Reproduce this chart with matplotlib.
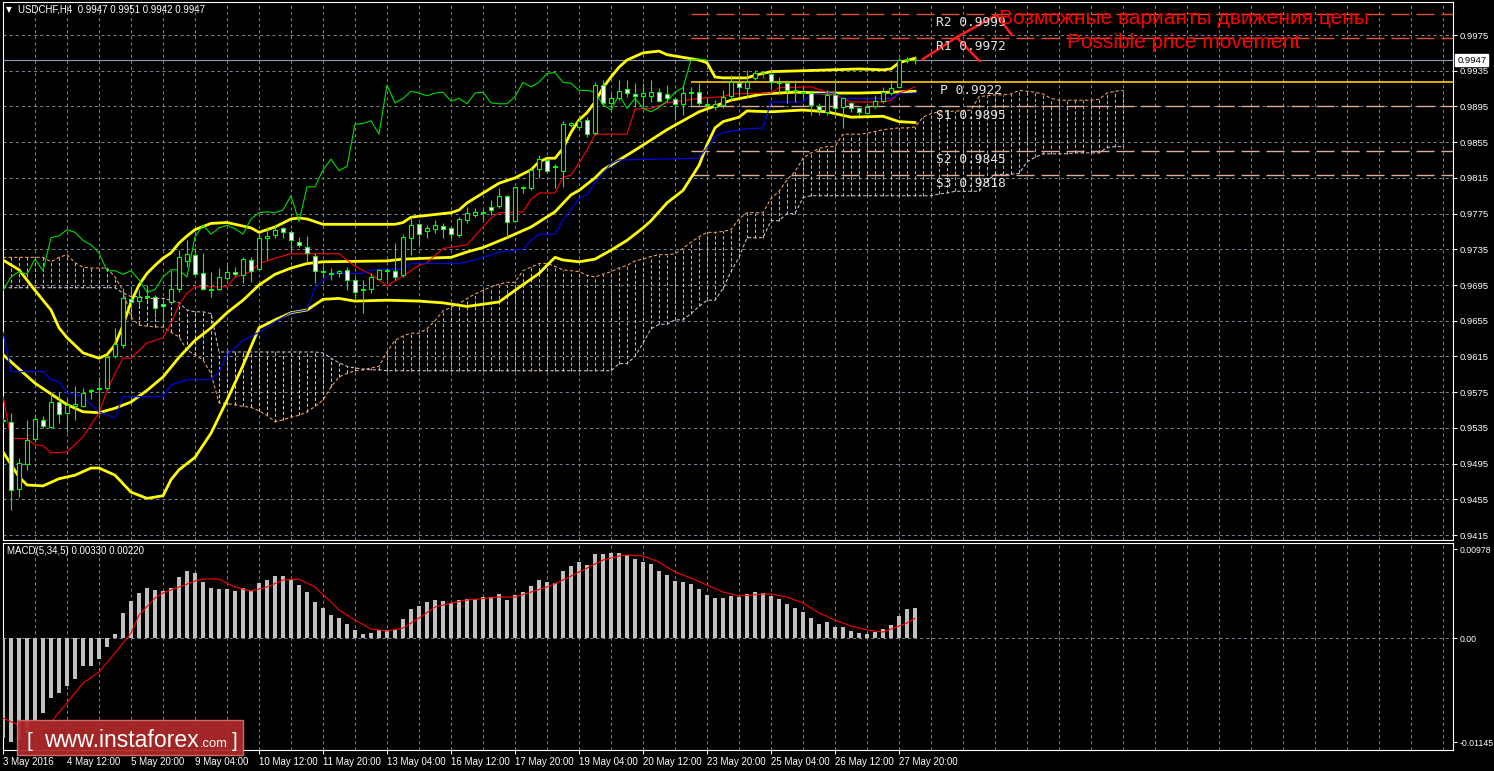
import numpy as np
import matplotlib
matplotlib.use("Agg")
import matplotlib.pyplot as plt
from matplotlib.patches import Rectangle

# ---------------- data ----------------
SYMBOL = "USDCHF,H4"

OPEN = [0.9543, 0.9542, 0.9466, 0.9494, 0.9523, 0.9544, 0.9536, 0.9564, 0.9552, 0.9560,
        0.9560, 0.9576, 0.9580, 0.9580, 0.9615, 0.9628, 0.9679, 0.9677, 0.9683, 0.9682,
        0.9674, 0.9676, 0.9690, 0.9722, 0.9729, 0.9708, 0.9690, 0.9691, 0.9703, 0.9710,
        0.9706, 0.9723, 0.9713, 0.9748, 0.9751, 0.9759, 0.9754, 0.9743, 0.9738, 0.9728,
        0.9710, 0.9708, 0.9708, 0.9712, 0.9701, 0.9689, 0.9690, 0.9702, 0.9711, 0.9711,
        0.9706, 0.9748, 0.9763, 0.9755, 0.9758, 0.9761, 0.9759, 0.9751, 0.9768, 0.9773,
        0.9777, 0.9782, 0.9784, 0.9795, 0.9767, 0.9804, 0.9804, 0.9825, 0.9835, 0.9827,
        0.9823, 0.9874, 0.9872, 0.9880, 0.9865, 0.9919, 0.9899, 0.9904, 0.9915, 0.9909,
        0.9907, 0.9907, 0.9911, 0.9909, 0.9903, 0.9898, 0.9910, 0.9911, 0.9897, 0.9894,
        0.9897, 0.9907, 0.9921, 0.9916, 0.9927, 0.9932, 0.9931, 0.9922, 0.9921, 0.9912,
        0.9910, 0.9910, 0.9896, 0.9889, 0.9908, 0.9894, 0.9899, 0.9893, 0.9888, 0.9896,
        0.9901, 0.9910, 0.9917, 0.9947, 0.9947]
HIGH = [0.9546, 0.9552, 0.9501, 0.9544, 0.9551, 0.9548, 0.9575, 0.9575, 0.9569, 0.9582,
        0.9580, 0.9578, 0.9592, 0.9616, 0.9647, 0.9692, 0.9694, 0.9689, 0.9695, 0.9684,
        0.9682, 0.9712, 0.9734, 0.9745, 0.9736, 0.9731, 0.9710, 0.9714, 0.9717, 0.9715,
        0.9726, 0.9726, 0.9753, 0.9760, 0.9762, 0.9760, 0.9757, 0.9749, 0.9750, 0.9731,
        0.9717, 0.9714, 0.9712, 0.9715, 0.9704, 0.9701, 0.9708, 0.9713, 0.9714, 0.9742,
        0.9752, 0.9771, 0.9764, 0.9762, 0.9768, 0.9764, 0.9761, 0.9771, 0.9782, 0.9781,
        0.9780, 0.9790, 0.9804, 0.9796, 0.9805, 0.9806, 0.9826, 0.9841, 0.9836, 0.9831,
        0.9879, 0.9878, 0.9885, 0.9883, 0.9922, 0.9925, 0.9910, 0.9925, 0.9925, 0.9921,
        0.9921, 0.9925, 0.9916, 0.9919, 0.9906, 0.9919, 0.9917, 0.9921, 0.9904, 0.9902,
        0.9913, 0.9930, 0.9932, 0.9936, 0.9936, 0.9935, 0.9936, 0.9928, 0.9925, 0.9925,
        0.9917, 0.9911, 0.9899, 0.9913, 0.9925, 0.9906, 0.9900, 0.9894, 0.9897, 0.9908,
        0.9917, 0.9925, 0.9949, 0.9950, 0.9951]
LOW = [0.9540, 0.9443, 0.9458, 0.9488, 0.9520, 0.9535, 0.9535, 0.9540, 0.9530, 0.9544,
       0.9558, 0.9567, 0.9551, 0.9577, 0.9613, 0.9625, 0.9673, 0.9673, 0.9677, 0.9659,
       0.9654, 0.9675, 0.9687, 0.9715, 0.9706, 0.9689, 0.9682, 0.9689, 0.9701, 0.9705,
       0.9697, 0.9698, 0.9712, 0.9723, 0.9748, 0.9748, 0.9734, 0.9738, 0.9721, 0.9697,
       0.9703, 0.9701, 0.9704, 0.9689, 0.9678, 0.9664, 0.9686, 0.9701, 0.9701, 0.9701,
       0.9704, 0.9729, 0.9740, 0.9748, 0.9753, 0.9748, 0.9748, 0.9749, 0.9764, 0.9771,
       0.9768, 0.9773, 0.9781, 0.9749, 0.9766, 0.9798, 0.9801, 0.9815, 0.9820, 0.9804,
       0.9805, 0.9872, 0.9869, 0.9861, 0.9863, 0.9897, 0.9891, 0.9902, 0.9906, 0.9894,
       0.9894, 0.9900, 0.9900, 0.9900, 0.9880, 0.9885, 0.9894, 0.9897, 0.9894, 0.9891,
       0.9893, 0.9902, 0.9906, 0.9906, 0.9925, 0.9928, 0.9913, 0.9910, 0.9899, 0.9900,
       0.9904, 0.9885, 0.9885, 0.9885, 0.9883, 0.9871, 0.9889, 0.9885, 0.9887, 0.9893,
       0.9899, 0.9908, 0.9916, 0.9944, 0.9942]
CLOSE = [0.9544, 0.9465, 0.9496, 0.9521, 0.9545, 0.9537, 0.9564, 0.9551, 0.9561, 0.9562,
         0.9574, 0.9577, 0.9578, 0.9614, 0.9629, 0.9680, 0.9676, 0.9682, 0.9682, 0.9669,
         0.9671, 0.9691, 0.9726, 0.9730, 0.9707, 0.9690, 0.9689, 0.9704, 0.9710, 0.9707,
         0.9724, 0.9711, 0.9748, 0.9750, 0.9757, 0.9754, 0.9745, 0.9740, 0.9731, 0.9711,
         0.9711, 0.9707, 0.9711, 0.9701, 0.9687, 0.9690, 0.9704, 0.9712, 0.9712, 0.9704,
         0.9749, 0.9762, 0.9752, 0.9759, 0.9762, 0.9758, 0.9752, 0.9769, 0.9776, 0.9777,
         0.9776, 0.9779, 0.9795, 0.9766, 0.9805, 0.9805, 0.9824, 0.9836, 0.9823, 0.9828,
         0.9875, 0.9876, 0.9879, 0.9864, 0.9919, 0.9899, 0.9904, 0.9912, 0.9910, 0.9907,
         0.9910, 0.9911, 0.9901, 0.9904, 0.9898, 0.9910, 0.9911, 0.9899, 0.9898, 0.9898,
         0.9906, 0.9922, 0.9917, 0.9922, 0.9932, 0.9933, 0.9922, 0.9921, 0.9913, 0.9913,
         0.9911, 0.9897, 0.9891, 0.9908, 0.9893, 0.9904, 0.9893, 0.9889, 0.9894, 0.9901,
         0.9911, 0.9916, 0.9947, 0.9948, 0.9947]

X_LABELS = ["3 May 2016", "4 May 12:00", "5 May 20:00", "9 May 04:00", "10 May 12:00",
            "11 May 20:00", "13 May 04:00", "16 May 12:00", "17 May 20:00", "19 May 04:00",
            "20 May 12:00", "23 May 20:00", "25 May 04:00", "26 May 12:00", "27 May 20:00"]
PRICE_TICKS = [0.9975, 0.9935, 0.9895, 0.9855, 0.9815, 0.9775, 0.9735, 0.9695,
               0.9655, 0.9615, 0.9575, 0.9535, 0.9495, 0.9455, 0.9415]

# Bollinger bands (key points: bar index, price)
BB_UPPER_X = [0, 2, 4, 6, 7, 8, 10, 12, 13, 14, 15, 16, 17, 18, 19, 20, 21, 22, 23, 24,
              26, 28, 31, 32, 34, 36, 37, 38, 40, 49, 50, 51, 53, 56, 57, 58, 60, 62, 64, 66,
              67, 68, 69, 70, 71, 72, 73, 74, 75, 76, 77, 78, 79, 80, 82, 83, 85, 87, 88, 89,
              90, 93, 94, 96, 100, 107, 110, 111, 112, 114]
BB_UPPER = [0.9723, 0.9712, 0.9689, 0.9667, 0.9647, 0.9636, 0.9619, 0.9613, 0.9617, 0.9628,
            0.9650, 0.9676, 0.9695, 0.9708, 0.9717, 0.9725, 0.9731, 0.9742, 0.9750, 0.9757,
            0.9764, 0.9765, 0.9759, 0.9754, 0.9760, 0.9769, 0.9770, 0.9769, 0.9763, 0.9763,
            0.9765, 0.9771, 0.9773, 0.9776, 0.9779, 0.9787, 0.9798, 0.9809, 0.9815, 0.9824,
            0.9833, 0.9837, 0.9837, 0.9848, 0.9866, 0.9880, 0.9888, 0.9900, 0.9916, 0.9928,
            0.9939, 0.9947, 0.9951, 0.9955, 0.9957, 0.9953, 0.9950, 0.9947, 0.9944, 0.9928,
            0.9927, 0.9927, 0.9930, 0.9934, 0.9935, 0.9937, 0.9936, 0.9937, 0.9944, 0.9949]
BB_MID_X = [0, 4, 8, 10, 12, 14, 16, 18, 20, 22, 24, 26, 28, 30, 32, 34, 36, 38, 40, 48,
            50, 56, 58, 60, 63, 66, 69, 71, 72, 74, 75, 79, 83, 87, 91, 95, 99, 103, 107, 111, 114]
BB_MID = [0.9617, 0.9585, 0.9561, 0.9553, 0.9552, 0.9557, 0.9564, 0.9577, 0.9592, 0.9614,
          0.9633, 0.9647, 0.9664, 0.9678, 0.9695, 0.9707, 0.9714, 0.9719, 0.9721, 0.9722,
          0.9724, 0.9726, 0.9732, 0.9737, 0.9748, 0.9760, 0.9777, 0.9796, 0.9801, 0.9815,
          0.9824, 0.9846, 0.9869, 0.9889, 0.9902, 0.9909, 0.9911, 0.9910, 0.9910, 0.9911, 0.9912]
BB_LOW_X = [0, 2, 3, 5, 7, 9, 11, 12, 14, 16, 18, 20, 21, 22, 24, 26, 28, 30, 32, 34,
            36, 38, 40, 42, 44, 48, 52, 55, 58, 62, 64, 67, 69, 70, 72, 74, 76, 78, 80, 81,
            82, 83, 85, 86, 87, 88, 89, 90, 92, 93, 96, 100, 103, 106, 110, 112, 114]
BB_LOW = [0.9508, 0.9480, 0.9471, 0.9470, 0.9478, 0.9482, 0.9490, 0.9490, 0.9482, 0.9463,
          0.9456, 0.9459, 0.9477, 0.9488, 0.9502, 0.9529, 0.9566, 0.9605, 0.9647, 0.9656,
          0.9664, 0.9667, 0.9679, 0.9680, 0.9677, 0.9678, 0.9677, 0.9675, 0.9671, 0.9676,
          0.9689, 0.9708, 0.9726, 0.9723, 0.9721, 0.9724, 0.9734, 0.9745, 0.9759, 0.9767,
          0.9777, 0.9787, 0.9801, 0.9815, 0.9829, 0.9852, 0.9871, 0.9878, 0.9883, 0.9890,
          0.9889, 0.9891, 0.9889, 0.9883, 0.9884, 0.9878, 0.9877]

# Ichimoku
TENKAN_X = [0, 1, 3, 4, 5, 6, 8, 10, 12, 13, 14, 15, 16, 18, 20, 21, 22, 23, 24, 28,
            29, 31, 32, 34, 36, 42, 44, 46, 48, 50, 52, 53, 55, 58, 60, 61, 62, 65, 66, 67,
            69, 70, 71, 72, 73, 74, 78, 79, 81, 83, 87, 90, 91, 96, 97, 101, 103, 105, 106, 110,
            111, 112, 113, 114]
TENKAN = [0.9570, 0.9523, 0.9523, 0.9516, 0.9515, 0.9507, 0.9508, 0.9525, 0.9552, 0.9577,
          0.9596, 0.9613, 0.9613, 0.9630, 0.9636, 0.9652, 0.9673, 0.9686, 0.9693, 0.9693,
          0.9704, 0.9710, 0.9719, 0.9725, 0.9730, 0.9730, 0.9716, 0.9707, 0.9694, 0.9705,
          0.9717, 0.9720, 0.9736, 0.9740, 0.9760, 0.9770, 0.9776, 0.9777, 0.9791, 0.9798,
          0.9798, 0.9816, 0.9818, 0.9832, 0.9846, 0.9864, 0.9864, 0.9892, 0.9893, 0.9899,
          0.9904, 0.9906, 0.9909, 0.9910, 0.9916, 0.9917, 0.9911, 0.9904, 0.9900, 0.9900,
          0.9902, 0.9910, 0.9913, 0.9917]
KIJUN_X = [0, 1, 5, 6, 7, 8, 10, 11, 12, 14, 15, 20, 21, 23, 26, 27, 28, 30, 32, 34,
           36, 38, 39, 41, 45, 46, 50, 51, 57, 59, 62, 65, 66, 67, 69, 70, 72, 73, 74, 75,
           76, 77, 87, 89, 90, 93, 95, 96, 100, 101, 104, 105, 111, 112, 114]
KIJUN = [0.9642, 0.9598, 0.9598, 0.9589, 0.9587, 0.9574, 0.9570, 0.9561, 0.9553, 0.9546,
         0.9570, 0.9570, 0.9583, 0.9589, 0.9589, 0.9598, 0.9617, 0.9633, 0.9642, 0.9654,
         0.9664, 0.9667, 0.9692, 0.9708, 0.9708, 0.9712, 0.9713, 0.9719, 0.9719, 0.9723,
         0.9732, 0.9735, 0.9745, 0.9752, 0.9752, 0.9768, 0.9792, 0.9796, 0.9810, 0.9820,
         0.9831, 0.9835, 0.9837, 0.9861, 0.9866, 0.9870, 0.9871, 0.9900, 0.9900, 0.9909,
         0.9910, 0.9904, 0.9904, 0.9909, 0.9910]
CHIKOU_SHIFT = 26
SENKOU_A = [0.9726, 0.9726, 0.9726, 0.9726, 0.9726, 0.9726, 0.9721, 0.9726, 0.9729, 0.9720,
            0.9715, 0.9714, 0.9714, 0.9714, 0.9704, 0.9689, 0.9659, 0.9650, 0.9649, 0.9648,
            0.9648, 0.9642, 0.9637, 0.9622, 0.9617, 0.9611, 0.9596, 0.9563, 0.9562, 0.9561,
            0.9559, 0.9558, 0.9554, 0.9549, 0.9542, 0.9544, 0.9547, 0.9549, 0.9553, 0.9559,
            0.9566, 0.9581, 0.9592, 0.9596, 0.9599, 0.9600, 0.9602, 0.9604, 0.9620, 0.9633,
            0.9638, 0.9641, 0.9641, 0.9646, 0.9655, 0.9666, 0.9670, 0.9674, 0.9680, 0.9685,
            0.9689, 0.9693, 0.9696, 0.9698, 0.9698, 0.9711, 0.9715, 0.9719, 0.9719, 0.9716,
            0.9712, 0.9711, 0.9710, 0.9706, 0.9704, 0.9707, 0.9710, 0.9714, 0.9717, 0.9722,
            0.9724, 0.9727, 0.9729, 0.9729, 0.9730, 0.9736, 0.9743, 0.9749, 0.9754, 0.9754,
            0.9755, 0.9757, 0.9769, 0.9776, 0.9776, 0.9776, 0.9792, 0.9800, 0.9813, 0.9822,
            0.9837, 0.9843, 0.9848, 0.9850, 0.9850, 0.9864, 0.9864, 0.9864, 0.9865, 0.9867,
            0.9869, 0.9870, 0.9871, 0.9871, 0.9872, 0.9883, 0.9887, 0.9889, 0.9889, 0.9890,
            0.9890, 0.9891, 0.9906, 0.9907, 0.9908, 0.9908, 0.9909, 0.9913, 0.9912, 0.9911,
            0.9909, 0.9904, 0.9902, 0.9902, 0.9902, 0.9902, 0.9902, 0.9903, 0.9910, 0.9912,
            0.9913]
SENKOU_B = [0.9692, 0.9692, 0.9692, 0.9692, 0.9692, 0.9692, 0.9692, 0.9692, 0.9692, 0.9692,
            0.9692, 0.9692, 0.9692, 0.9692, 0.9692, 0.9686, 0.9682, 0.9682, 0.9680, 0.9680,
            0.9680, 0.9678, 0.9675, 0.9667, 0.9665, 0.9665, 0.9663, 0.9620, 0.9620, 0.9620,
            0.9620, 0.9620, 0.9620, 0.9620, 0.9620, 0.9620, 0.9620, 0.9620, 0.9620, 0.9620,
            0.9619, 0.9613, 0.9608, 0.9604, 0.9602, 0.9601, 0.9600, 0.9600, 0.9599, 0.9599,
            0.9599, 0.9599, 0.9599, 0.9599, 0.9599, 0.9599, 0.9599, 0.9599, 0.9599, 0.9599,
            0.9599, 0.9599, 0.9599, 0.9599, 0.9599, 0.9599, 0.9599, 0.9599, 0.9599, 0.9599,
            0.9599, 0.9599, 0.9599, 0.9599, 0.9599, 0.9599, 0.9599, 0.9607, 0.9607, 0.9615,
            0.9630, 0.9646, 0.9651, 0.9651, 0.9656, 0.9656, 0.9663, 0.9671, 0.9678, 0.9678,
            0.9691, 0.9710, 0.9726, 0.9748, 0.9748, 0.9748, 0.9767, 0.9767, 0.9775, 0.9775,
            0.9793, 0.9795, 0.9795, 0.9795, 0.9795, 0.9795, 0.9795, 0.9795, 0.9795, 0.9795,
            0.9795, 0.9795, 0.9795, 0.9795, 0.9795, 0.9795, 0.9795, 0.9797, 0.9798, 0.9800,
            0.9800, 0.9800, 0.9800, 0.9811, 0.9819, 0.9819, 0.9819, 0.9820, 0.9833, 0.9838,
            0.9842, 0.9842, 0.9842, 0.9842, 0.9843, 0.9843, 0.9843, 0.9843, 0.9849, 0.9850,
            0.9850]

# Daily pivot levels
PIVOT_NAMES = ["R2", "R1", "P", "S1", "S2", "S3"]
PIVOT_LEVELS = [0.9999, 0.9972, 0.9922, 0.9895, 0.9845, 0.9818]
PIVOT_START_BAR = 86

# MACD(5,34,5)
MACD_HIST = [-0.01100, -0.01145, -0.01120, -0.01040, -0.00899, -0.00822, -0.00657, -0.00602, -0.00525, -0.00448,
             -0.00305, -0.00305, -0.00228, -0.00096, 0.00047, 0.00278, 0.00410, 0.00498, 0.00553, 0.00531,
             0.00520, 0.00553, 0.00674, 0.00740, 0.00718, 0.00619, 0.00553, 0.00542, 0.00542, 0.00520,
             0.00553, 0.00520, 0.00608, 0.00641, 0.00685, 0.00685, 0.00652, 0.00586, 0.00509, 0.00399,
             0.00333, 0.00256, 0.00223, 0.00157, 0.00091, 0.00047, 0.00058, 0.00091, 0.00091, 0.00091,
             0.00212, 0.00322, 0.00355, 0.00399, 0.00421, 0.00410, 0.00388, 0.00421, 0.00432, 0.00432,
             0.00454, 0.00454, 0.00487, 0.00421, 0.00476, 0.00509, 0.00575, 0.00641, 0.00619, 0.00608,
             0.00740, 0.00795, 0.00839, 0.00806, 0.00927, 0.00927, 0.00938, 0.00938, 0.00916, 0.00872,
             0.00839, 0.00817, 0.00740, 0.00696, 0.00630, 0.00619, 0.00597, 0.00542, 0.00476, 0.00443,
             0.00443, 0.00465, 0.00454, 0.00487, 0.00509, 0.00498, 0.00465, 0.00432, 0.00377, 0.00333,
             0.00289, 0.00223, 0.00157, 0.00179, 0.00124, 0.00124, 0.00080, 0.00058, 0.00047, 0.00069,
             0.00102, 0.00146, 0.00245, 0.00322, 0.00330]
SIGNAL_X = [0, 3, 5, 6, 8, 10, 12, 14, 16, 17, 19, 20, 22, 24, 25, 27, 29, 31, 33, 35,
            37, 39, 40, 41, 42, 44, 46, 48, 50, 52, 54, 56, 58, 62, 64, 66, 68, 70, 72, 75,
            77, 78, 80, 82, 84, 86, 88, 90, 92, 95, 96, 98, 100, 102, 104, 106, 108, 110, 111, 113, 114]
SIGNAL = [-0.00877, -0.00998, -0.00998, -0.00921, -0.00712, -0.00492, -0.00371, -0.00162, 0.00058, 0.00256,
          0.00443, 0.00498, 0.00564, 0.00630, 0.00652, 0.00652, 0.00564, 0.00520, 0.00564, 0.00641,
          0.00652, 0.00564, 0.00480, 0.00400, 0.00311, 0.00201, 0.00102, 0.00080, 0.00113, 0.00223,
          0.00344, 0.00388, 0.00421, 0.00454, 0.00454, 0.00509, 0.00564, 0.00641, 0.00729, 0.00861,
          0.00905, 0.00916, 0.00905, 0.00839, 0.00729, 0.00663, 0.00586, 0.00509, 0.00465, 0.00487,
          0.00487, 0.00454, 0.00388, 0.00278, 0.00201, 0.00135, 0.00091, 0.00069, 0.00102, 0.00168,
          0.00220]
MACD_TICKS = [0.00978, 0.0, -0.01145]
MACD_TICK_LABELS = ["0.00978", "0.00", "-0.01145"]

# hand-drawn "possible movement" lines (bar index, price)
ANNOT_LINES = [
    [(114.96, 0.99478), (119.2, 0.99724), (124.2, 0.99974)],
    [(119.2, 0.99724), (122.06, 0.99459)],
    [(124.2, 0.99974), (126.1, 0.99750)],
]
ANNOT_TEXT_RU = "Возможные варианты движения цены"
ANNOT_TEXT_EN = "Possible price movement"

# ---------------- styling ----------------
plt.rcParams['font.family'] = ['Liberation Sans', 'DejaVu Sans']
plt.rcParams['lines.scale_dashes'] = False

W, H = 1494, 771
fig = plt.figure(figsize=(W / 100, H / 100), dpi=100, facecolor='black')


def fig_rect(left, top, right, bottom):
    return [left / W, 1 - bottom / H, (right - left) / W, (bottom - top) / H]


def fx(px):
    return px / W


def fy(py):
    return 1 - py / H


ax = fig.add_axes(fig_rect(2.7, 2.0, 1453.0, 540.0))
axm = fig.add_axes(fig_rect(2.7, 543.0, 1453.0, 750.0))

XLIM = (-0.04, 181.25)
GRID_COLOR = '#778899'
GRID_LS = (0, (2.2, 2.2))
CLOUD_LS = (0, (2.4, 1.6))
WHITE = '#ffffff'
LIME = '#00ff00'
SANDY = '#f4a460'
THISTLE = '#d8bfd8'

for a in (ax, axm):
    a.set_facecolor('black')
    a.set_xlim(*XLIM)
    for s in a.spines.values():
        s.set_color(WHITE)
        s.set_linewidth(0.8)
    a.yaxis.tick_right()
    a.tick_params(axis='y', colors=WHITE, labelcolor=WHITE, labelsize=6.8,
                  length=3, width=0.7, pad=1.5, direction='out')
    a.set_axisbelow(True)

# main panel axes
ax.set_ylim(0.94094, 1.0012)
ax.set_yticks(PRICE_TICKS)
ax.set_yticklabels([f"{p:.4f}" for p in PRICE_TICKS])
ax.set_xticks(np.arange(0, 182, 4))
ax.tick_params(axis='x', length=0, labelbottom=False)
ax.grid(True, color=GRID_COLOR, lw=0.7, ls=GRID_LS)

# cloud (Senkou span A / B)
sa = np.array(SENKOU_A)
sb = np.array(SENKOU_B)
xc = np.arange(len(sa))
up = sa >= sb
ax.vlines(xc[up], sb[up], sa[up], colors=SANDY, lw=0.75, linestyles=[CLOUD_LS], zorder=1.5)
ax.vlines(xc[~up], sa[~up], sb[~up], colors=THISTLE, lw=0.75, linestyles=[CLOUD_LS], zorder=1.5)
ax.plot(xc, sa, color=SANDY, lw=0.75, ls=CLOUD_LS, zorder=1.6)
ax.plot(xc, sb, color=THISTLE, lw=0.75, ls=CLOUD_LS, zorder=1.6)

# pivot lines
for name, lvl in zip(PIVOT_NAMES, PIVOT_LEVELS):
    if name.startswith('R'):
        ax.hlines(lvl, PIVOT_START_BAR, XLIM[1], colors='#e0502a', lw=1.0,
                  linestyles=[(0, (13, 5))], zorder=2)
    elif name == 'P':
        ax.hlines(lvl, PIVOT_START_BAR, XLIM[1], colors='#ffd000', lw=1.2, zorder=2)
    else:
        ax.hlines(lvl, PIVOT_START_BAR, XLIM[1], colors='#dcab96', lw=1.0,
                  linestyles=[(0, (13, 5))], zorder=2)
    label_x = 117.1 if name == 'P' else 116.6
    ax.annotate(f"{name} {lvl:.4f}", xy=(label_x, lvl), xytext=(0, -1.5),
                textcoords='offset points', va='top', ha='left',
                family='DejaVu Sans Mono', fontsize=9.3, color='#e4e4e4', zorder=9)

# current price line
last = CLOSE[-1]
ax.axhline(last, color='#8a9bb0', lw=0.8, zorder=2)

# Bollinger bands
for bx, by in ((BB_UPPER_X, BB_UPPER), (BB_MID_X, BB_MID), (BB_LOW_X, BB_LOW)):
    ax.plot(bx, by, color='#ffff00', lw=2.0, zorder=4, solid_joinstyle='round')

# Ichimoku lines
ax.plot(TENKAN_X, TENKAN, color='#ff0000', lw=0.8, zorder=4.2)
ax.plot(KIJUN_X, KIJUN, color='#0000ff', lw=0.8, zorder=4.2)
xb = np.arange(len(CLOSE))
ax.plot(xb[:-CHIKOU_SHIFT], CLOSE[CHIKOU_SHIFT:], color='#00dd00', lw=0.8, zorder=4.2)

# candles
o = np.array(OPEN); h = np.array(HIGH); l = np.array(LOW); c = np.array(CLOSE)
ax.vlines(xb, l, h, colors=LIME, lw=0.8, zorder=6)
bull = c >= o
ax.bar(xb, np.abs(c - o), bottom=np.minimum(o, c), width=0.62,
       color=np.where(bull, 'black', 'white'), edgecolor=LIME, linewidth=0.8, zorder=7)

# annotation lines
for seg in ANNOT_LINES:
    sx, sy = zip(*seg)
    ax.plot(sx, sy, color='#ff1a1a', lw=1.8, zorder=8, solid_capstyle='round')

# price box on axis
ax.annotate(f"{last:.4f}", xy=(1.0, last), xycoords=('axes fraction', 'data'),
            xytext=(3.0, 0), textcoords='offset points', va='center', ha='left',
            fontsize=6.8, color='black', annotation_clip=False, zorder=10,
            bbox=dict(boxstyle='square,pad=0.18', fc='white', ec='white'))

# MACD panel
axm.set_ylim(-0.012287, 0.010483)
axm.set_yticks(MACD_TICKS)
axm.set_yticklabels(MACD_TICK_LABELS)
axm.tick_params(axis='y', labelsize=6.3)
axm.set_xticks(np.arange(0, 8 * len(X_LABELS), 8))
axm.set_xticklabels(X_LABELS)
axm.set_xticks(np.arange(0, 182, 4), minor=True)
axm.tick_params(axis='x', which='major', colors=WHITE, labelcolor=WHITE, labelsize=7,
                length=3, width=0.7, pad=2)
axm.tick_params(axis='x', which='minor', length=0)
for lab in axm.get_xticklabels():
    lab.set_horizontalalignment('left')
axm.grid(True, which='both', axis='x', color=GRID_COLOR, lw=0.7, ls=GRID_LS)
axm.axhline(0, color=GRID_COLOR, lw=0.7, ls=GRID_LS, zorder=1)
axm.bar(np.arange(len(MACD_HIST)), MACD_HIST, width=0.4, color='#c0c0c0', zorder=3)
axm.plot(SIGNAL_X, SIGNAL, color='#ff0000', lw=0.8, zorder=4)

# header texts
fig.text(fx(6), fy(10), "\u25BC", color=WHITE, fontsize=5.5, va='center', ha='left',
         family='DejaVu Sans')
fig.text(fx(18), fy(10), f"{SYMBOL}  {OPEN[-1]:.4f} {HIGH[-1]:.4f} {LOW[-1]:.4f} {CLOSE[-1]:.4f}",
         color=WHITE, fontsize=7, va='center', ha='left')
fig.text(fx(7), fy(551), f"MACD(5,34,5) {MACD_HIST[-1]:.5f} {SIGNAL[-1]:.5f}",
         color=WHITE, fontsize=7, va='center', ha='left')

# red annotation text
fig.text(fx(1184), fy(18), ANNOT_TEXT_RU, color='#ff0000', fontsize=15, va='center', ha='center')
fig.text(fx(1184), fy(42), ANNOT_TEXT_EN, color='#ff0000', fontsize=15, va='center', ha='center')

# watermark
wm = Rectangle((fx(17), fy(755)), (243 - 17) / W, 35 / H, transform=fig.transFigure,
               facecolor='#b02a2a', edgecolor='#d87070', linewidth=1.0, alpha=0.93, zorder=20)
fig.patches.append(wm)
renderer = fig.canvas.get_renderer()
WM_BASE = fy(747)
t0 = fig.text(fx(27), WM_BASE, "[", color=WHITE, fontsize=15, va='baseline', ha='left', zorder=21)
t1 = fig.text(fx(44), WM_BASE, "www.instaforex", color=WHITE, fontsize=20, va='baseline',
              ha='left', zorder=21)
w1 = t1.get_window_extent(renderer=renderer).width
t1.set_fontsize(20 * 154.0 / w1)
bb1 = t1.get_window_extent(renderer=renderer)
t2 = fig.text((bb1.x1 + 1) / W, WM_BASE, ".com", color=WHITE, fontsize=13, va='baseline',
              ha='left', zorder=21)
w2 = t2.get_window_extent(renderer=renderer).width
t2.set_fontsize(13 * 28.0 / w2)
bb2 = t2.get_window_extent(renderer=renderer)
fig.text((bb2.x1 + 4) / W, WM_BASE, "]", color=WHITE, fontsize=15, va='baseline', ha='left',
         zorder=21)

fig.savefig("out.png", dpi=100, facecolor='black')
